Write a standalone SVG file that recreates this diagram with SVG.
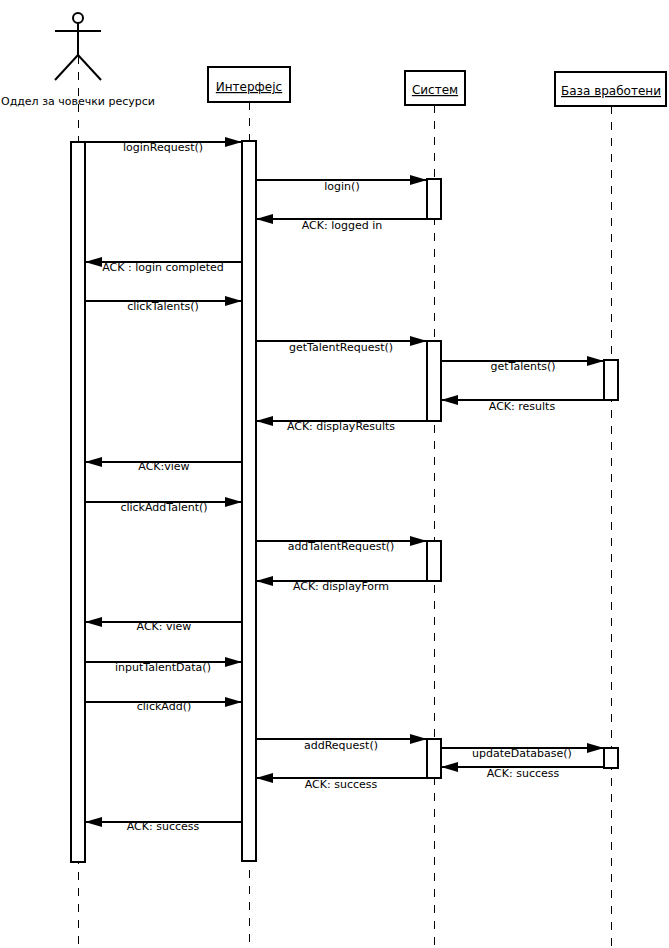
<svg xmlns="http://www.w3.org/2000/svg" width="669" height="948" viewBox="0 0 669 948">
<style>
.bg{fill:#fff}
.life{stroke:#000;stroke-width:1;stroke-dasharray:8,8;fill:none}
.box{fill:#fff;stroke:#000;stroke-width:2}
.act{fill:#fff;stroke:#000;stroke-width:2}
.msg{stroke:#000;stroke-width:2;fill:none;marker-end:url(#ah)}
.lbl{font-family:"DejaVu Sans",Verdana,sans-serif;font-size:11px;fill:#000;text-anchor:middle}
.title{font-family:"DejaVu Sans",Verdana,sans-serif;font-size:12px;fill:#000;text-anchor:middle;text-decoration:underline}
.stick{stroke:#000;stroke-width:2;fill:none}
</style>
<defs>
<marker id="ah" markerUnits="userSpaceOnUse" markerWidth="18" markerHeight="11" refX="17" refY="5" orient="auto">
<path d="M0,0 L17,5 L0,10 z" fill="#000"/>
</marker>
</defs>
<rect class="bg" x="0" y="0" width="669" height="948"/>

<g id="lifelines">
<line class="life" x1="78.5" y1="56" x2="78.5" y2="948"/>
<line class="life" x1="249.5" y1="102" x2="249.5" y2="948"/>
<line class="life" x1="434.5" y1="105" x2="434.5" y2="948"/>
<line class="life" x1="611.5" y1="106" x2="611.5" y2="948"/>
</g>

<g id="actor-hr">
<circle class="stick" cx="78" cy="18" r="5"/>
<line class="stick" x1="78" y1="23" x2="78" y2="55"/>
<line class="stick" x1="55" y1="31" x2="101" y2="31"/>
<line class="stick" x1="78" y1="55" x2="55" y2="80"/>
<line class="stick" x1="78" y1="55" x2="101" y2="80"/>
<text class="lbl" x="78" y="105">Оддел за човечки ресурси</text>
<rect class="act" x="71" y="142" width="14" height="720"/>
</g>

<g id="interface">
<rect class="box" x="208" y="67" width="82" height="35"/>
<text class="title" x="249" y="91">Интерфејс</text>
<rect class="act" x="242" y="141" width="14" height="720"/>
</g>

<g id="system">
<rect class="box" x="405" y="71" width="60" height="34"/>
<text class="title" x="435" y="94">Систем</text>
<rect class="act" x="427" y="179" width="14" height="40"/>
<rect class="act" x="427" y="341" width="14" height="80"/>
<rect class="act" x="427" y="541" width="14" height="40"/>
<rect class="act" x="427" y="739" width="14" height="39"/>
</g>

<g id="database">
<rect class="box" x="555" y="72" width="111" height="34"/>
<text class="title" x="611" y="95">База вработени</text>
<rect class="act" x="604" y="360" width="14" height="40"/>
<rect class="act" x="604" y="748" width="14" height="20"/>
</g>

<g id="connectors">
<line class="msg" x1="85" y1="142" x2="242" y2="142"/>
<line class="msg" x1="256" y1="180" x2="427" y2="180"/>
<line class="msg" x1="427" y1="219" x2="256" y2="219"/>
<line class="msg" x1="242" y1="262" x2="85" y2="262"/>
<line class="msg" x1="85" y1="301" x2="242" y2="301"/>
<line class="msg" x1="256" y1="341" x2="427" y2="341"/>
<line class="msg" x1="441" y1="361" x2="604" y2="361"/>
<line class="msg" x1="604" y1="400" x2="441" y2="400"/>
<line class="msg" x1="427" y1="421" x2="256" y2="421"/>
<line class="msg" x1="242" y1="462" x2="85" y2="462"/>
<line class="msg" x1="85" y1="502" x2="242" y2="502"/>
<line class="msg" x1="256" y1="541" x2="427" y2="541"/>
<line class="msg" x1="427" y1="581" x2="256" y2="581"/>
<line class="msg" x1="242" y1="622" x2="85" y2="622"/>
<line class="msg" x1="85" y1="662" x2="242" y2="662"/>
<line class="msg" x1="85" y1="702" x2="242" y2="702"/>
<line class="msg" x1="256" y1="739" x2="427" y2="739"/>
<line class="msg" x1="441" y1="748" x2="604" y2="748"/>
<line class="msg" x1="604" y1="767" x2="441" y2="767"/>
<line class="msg" x1="427" y1="778" x2="256" y2="778"/>
<line class="msg" x1="242" y1="822" x2="85" y2="822"/>
<text class="lbl" x="163" y="151">loginRequest()</text>
<text class="lbl" x="342" y="190">login()</text>
<text class="lbl" x="342" y="229">ACK: logged in</text>
<text class="lbl" x="163" y="271">ACK : login completed</text>
<text class="lbl" x="163" y="310">clickTalents()</text>
<text class="lbl" x="341" y="351">getTalentRequest()</text>
<text class="lbl" x="523" y="370">getTalents()</text>
<text class="lbl" x="522" y="410">ACK: results</text>
<text class="lbl" x="341" y="430">ACK: displayResults</text>
<text class="lbl" x="164" y="470">ACK:view</text>
<text class="lbl" x="164" y="511">clickAddTalent()</text>
<text class="lbl" x="341" y="550">addTalentRequest()</text>
<text class="lbl" x="341" y="590">ACK: displayForm</text>
<text class="lbl" x="164" y="630">ACK: view</text>
<text class="lbl" x="163" y="671">inputTalentData()</text>
<text class="lbl" x="164" y="710">clickAdd()</text>
<text class="lbl" x="341" y="749">addRequest()</text>
<text class="lbl" x="522" y="757">updateDatabase()</text>
<text class="lbl" x="523" y="777">ACK: success</text>
<text class="lbl" x="341" y="788">ACK: success</text>
<text class="lbl" x="163" y="830">ACK: success</text>
</g>
</svg>
